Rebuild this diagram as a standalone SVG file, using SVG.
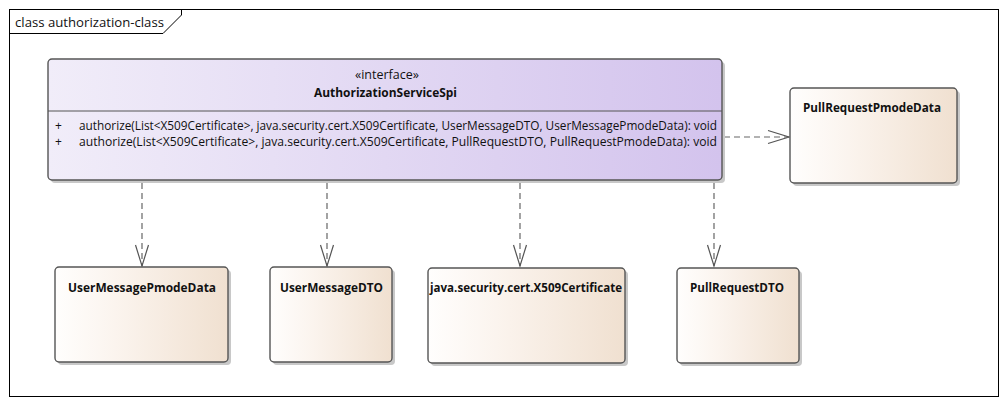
<svg xmlns="http://www.w3.org/2000/svg" width="1008" height="405" viewBox="0 0 1008 405">
<defs>
<linearGradient id="gI" x1="0" y1="0" x2="1" y2="0">
<stop offset="0" stop-color="#f1edf9"/>
<stop offset="1" stop-color="#d3c3ed"/>
</linearGradient>
<linearGradient id="gC" x1="0" y1="0" x2="1" y2="0">
<stop offset="0" stop-color="#fffefd"/>
<stop offset="0.35" stop-color="#fbf4ee"/>
<stop offset="1" stop-color="#f0e0d0"/>
</linearGradient>
<marker id="open" markerWidth="24" markerHeight="16" refX="22" refY="8" orient="auto" markerUnits="userSpaceOnUse">
<path d="M1,1.5 L22,8 L1,14.5" fill="none" stroke="#555" stroke-width="1.2"/>
</marker>
</defs>
<style>
.frame{fill:#fff;stroke:#000;stroke-width:1}
.shadow{fill:#c8c8c8}
.box{stroke:#555;stroke-width:1.4}
.t{font-family:"Open Sans","Noto Sans","Liberation Sans",sans-serif;font-size:12px;fill:#111}
.b{font-weight:bold}
.dep{fill:none;stroke:#666;stroke-width:1.2;stroke-dasharray:6,4}
</style>
<rect width="1008" height="405" fill="#fff"/>
<g id="frame">
<rect class="frame" x="9.5" y="9.5" width="989" height="387"/>
<path d="M9.5,33.5 H163 L181.5,15 V9.5" fill="none" stroke="#000"/>
<text class="t" x="15" y="27" font-size="13" textLength="149" lengthAdjust="spacingAndGlyphs">class authorization-class</text>
</g>
<g id="connectors">
<path class="dep" d="M142,183 V266" marker-end="url(#open)"/>
<path class="dep" d="M327,183 V266" marker-end="url(#open)"/>
<path class="dep" d="M520,183 V266" marker-end="url(#open)"/>
<path class="dep" d="M714,183 V266" marker-end="url(#open)"/>
<path class="dep" d="M724,137 H789" marker-end="url(#open)"/>
</g>
<g id="AuthorizationServiceSpi">
<rect class="shadow" x="51" y="62" width="674" height="121" rx="4"/>
<rect class="box" x="48" y="59" width="674" height="121" rx="4" fill="url(#gI)"/>
<line x1="48" y1="111" x2="722" y2="111" stroke="#555" stroke-width="1"/>
<text class="t" x="387" y="79" text-anchor="middle" textLength="64" lengthAdjust="spacingAndGlyphs">«interface»</text>
<text class="t b" x="385.5" y="97" text-anchor="middle" textLength="143" lengthAdjust="spacingAndGlyphs">AuthorizationServiceSpi</text>
<text class="t" x="55" y="130">+</text>
<text class="t" x="55" y="146">+</text>
<text class="t" x="79" y="130" textLength="638" lengthAdjust="spacingAndGlyphs">authorize(List&lt;X509Certificate&gt;, java.security.cert.X509Certificate, UserMessageDTO, UserMessagePmodeData): void</text>
<text class="t" x="79" y="146" textLength="638" lengthAdjust="spacingAndGlyphs">authorize(List&lt;X509Certificate&gt;, java.security.cert.X509Certificate, PullRequestDTO, PullRequestPmodeData): void</text>
</g>
<g id="PullRequestPmodeData">
<rect class="shadow" x="793" y="91" width="167" height="95" rx="4"/>
<rect class="box" x="790" y="88" width="167" height="95" rx="4" fill="url(#gC)"/>
<text class="t b" x="803" y="112" textLength="138" lengthAdjust="spacingAndGlyphs">PullRequestPmodeData</text>
</g>
<g id="UserMessagePmodeData">
<rect class="shadow" x="58" y="270" width="173" height="95" rx="4"/>
<rect class="box" x="55" y="267" width="173" height="95" rx="4" fill="url(#gC)"/>
<text class="t b" x="142" y="292" text-anchor="middle" textLength="148" lengthAdjust="spacingAndGlyphs">UserMessagePmodeData</text>
</g>
<g id="UserMessageDTO">
<rect class="shadow" x="273" y="270" width="122" height="95" rx="4"/>
<rect class="box" x="270" y="267" width="122" height="95" rx="4" fill="url(#gC)"/>
<text class="t b" x="331.5" y="292" text-anchor="middle" textLength="103" lengthAdjust="spacingAndGlyphs">UserMessageDTO</text>
</g>
<g id="X509Certificate">
<rect class="shadow" x="431" y="271" width="197" height="95" rx="4"/>
<rect class="box" x="428" y="268" width="197" height="95" rx="4" fill="url(#gC)"/>
<text class="t b" x="526" y="292" text-anchor="middle" textLength="192" lengthAdjust="spacingAndGlyphs">java.security.cert.X509Certificate</text>
</g>
<g id="PullRequestDTO">
<rect class="shadow" x="680" y="271" width="122" height="95" rx="4"/>
<rect class="box" x="677" y="268" width="122" height="95" rx="4" fill="url(#gC)"/>
<text class="t b" x="737" y="292" text-anchor="middle" textLength="94" lengthAdjust="spacingAndGlyphs">PullRequestDTO</text>
</g>
</svg>
